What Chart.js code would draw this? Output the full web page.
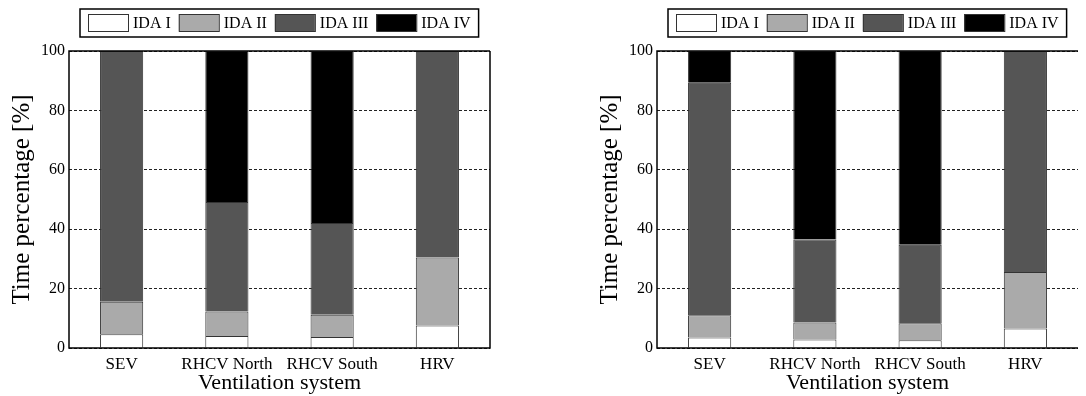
<!DOCTYPE html>
<html>
<head>
<meta charset="utf-8">
<script src="https://cdn.jsdelivr.net/npm/chart.js@4.4.0/dist/chart.umd.min.js"></script>
<style>
  html, body { margin: 0; padding: 0; background: #fff; overflow: hidden; }
  .wrap { position: absolute; top: 0; width: 543px; height: 396px; }
</style>
</head>
<body>
<div class="wrap" style="left:0"><canvas id="chartA" width="543" height="396"></canvas></div>
<div class="wrap" style="left:543px"><canvas id="chartB" width="543" height="396"></canvas></div>
<script>
const FONT = "'Liberation Serif', 'Times New Roman', serif";

// Categories and series (percent of time per IDA class)
const categories = ['SEV', 'RHCV North', 'RHCV South', 'HRV'];
const seriesNames = ['IDA I', 'IDA II', 'IDA III', 'IDA IV'];
const seriesColors = ['#ffffff', '#aaaaaa', '#555555', '#000000'];

// Left chart
const idaI_A   = [4.6, 4.0, 3.7, 7.6];
const idaII_A  = [11.0, 8.3, 7.5, 22.9];
const idaIII_A = [84.4, 36.9, 30.9, 69.5];
const idaIV_A  = [0, 50.8, 57.9, 0];

// Right chart
const idaI_B   = [3.5, 2.9, 2.6, 6.6];
const idaII_B  = [7.5, 5.7, 5.7, 19.0];
const idaIII_B = [78.3, 27.9, 26.5, 74.4];
const idaIV_B  = [10.7, 63.5, 65.2, 0];

// Boxed legend, centred over the plot area
const boxLegend = {
    id: 'boxLegend',
    afterDraw(chart) {
        const ctx = chart.ctx;
        const area = chart.chartArea;
        const sets = chart.data.datasets;
        const sw = 40, sh = 17, gap = 5, itemGap = 8, pad = 8;
        const top = 9, h = 28;
        ctx.save();
        ctx.font = '16px ' + FONT;
        const widths = sets.map(d => ctx.measureText(d.label).width);
        const total = pad * 2 + sets.length * (sw + gap) +
            widths.reduce((a, b) => a + b, 0) + itemGap * (sets.length - 1);
        const x = Math.round((area.left + area.right) / 2 - total / 2);
        ctx.fillStyle = '#fff';
        ctx.fillRect(x, top, total, h);
        ctx.strokeStyle = '#000';
        ctx.lineWidth = 1.5;
        ctx.strokeRect(x, top, total, h);
        let cx = x + pad;
        sets.forEach((d, i) => {
            ctx.fillStyle = d.backgroundColor;
            ctx.fillRect(cx, top + 5, sw, sh);
            ctx.strokeStyle = '#333';
            ctx.lineWidth = 1;
            ctx.strokeRect(cx + 0.5, top + 5.5, sw, sh);
            cx += sw + gap;
            ctx.fillStyle = '#000';
            ctx.textBaseline = 'middle';
            ctx.fillText(d.label, cx, top + h / 2 + 1);
            cx += widths[i] + itemGap;
        });
        ctx.restore();
    }
};

// Solid box round the plot area
const frame = {
    id: 'frame',
    afterDatasetsDraw(chart, args, opts) {
        const {ctx, chartArea: a} = chart;
        ctx.save();
        ctx.strokeStyle = '#000';
        ctx.lineWidth = 1.5;
        ctx.beginPath();
        ctx.moveTo(a.right, a.top);
        ctx.lineTo(a.left, a.top);
        ctx.lineTo(a.left, a.bottom);
        ctx.lineTo(a.right, a.bottom);
        if (opts.right !== false) ctx.lineTo(a.right, a.top);
        ctx.stroke();
        ctx.restore();
    }
};

function makeChart(id, series, pad, rightBorder) {
    const ctx = document.getElementById(id).getContext('2d');
    return new Chart(ctx, {
        type: 'bar',
        data: {
            labels: categories,
            datasets: series.map((vals, i) => ({
                label: seriesNames[i],
                data: vals,
                backgroundColor: seriesColors[i],
                borderColor: '#333',
                borderWidth: 1,
                barPercentage: 0.41,
                categoryPercentage: 1
            }))
        },
        options: {
            responsive: false,
            animation: false,
            layout: { padding: pad },
            plugins: {
                legend: { display: false },
                tooltip: { enabled: false },
                frame: { right: rightBorder }
            },
            scales: {
                x: {
                    stacked: true,
                    grid: { display: false, drawTicks: false },
                    border: { display: false },
                    ticks: { color: '#000', padding: 6, font: { family: FONT, size: 17 } },
                    title: {
                        display: true,
                        text: 'Ventilation system',
                        color: '#000',
                        padding: { top: 0, bottom: 0 },
                        font: { family: FONT, size: 22 }
                    },
                    afterFit: s => { s.height = 48; }
                },
                y: {
                    stacked: true,
                    min: 0,
                    max: 100,
                    grid: { color: '#222', lineWidth: 1, drawTicks: false },
                    border: { display: false, dash: [3, 2] },
                    ticks: { stepSize: 20, color: '#000', padding: 4, font: { family: FONT, size: 16 } },
                    title: {
                        display: true,
                        text: 'Time percentage [%]',
                        color: '#000',
                        padding: { top: 7, bottom: 0 },
                        font: { family: FONT, size: 25 }
                    },
                    afterFit: s => { s.width = 69; }
                }
            }
        },
        plugins: [frame, boxLegend]
    });
}

makeChart('chartA', [idaI_A, idaII_A, idaIII_A, idaIV_A],
    { top: 51, right: 53, left: 0, bottom: 0 }, true);
makeChart('chartB', [idaI_B, idaII_B, idaIII_B, idaIV_B],
    { top: 51, right: 8, left: 45, bottom: 0 }, false);
</script>
</body>
</html>
